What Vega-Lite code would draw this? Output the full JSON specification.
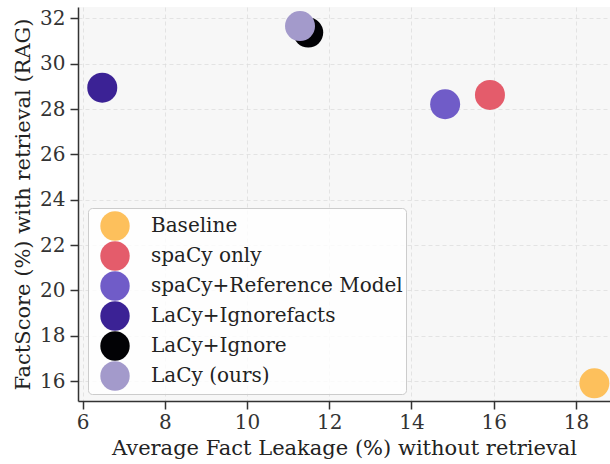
{
  "$schema": "https://vega.github.io/schema/vega-lite/v6.json",
  "autosize": "none",
  "width": 532,
  "height": 394,
  "padding": {"left": 78, "top": 7, "right": 0, "bottom": 63},
  "background": "white",
  "config": {
    "font": "DejaVu Serif",
    "view": {"fill": "#f7f7f7", "stroke": null},
    "axis": {
      "labelFont": "DejaVu Serif",
      "titleFont": "DejaVu Serif",
      "labelFontSize": 20,
      "titleFontSize": 21,
      "titleFontWeight": "normal",
      "labelColor": "#333",
      "titleColor": "#222",
      "domainColor": "#333",
      "domainWidth": 1.5,
      "tickColor": "#333",
      "tickWidth": 1.5,
      "tickSize": 8,
      "labelPadding": 3,
      "grid": true,
      "gridColor": "#dddddd",
      "gridDash": [4, 3],
      "gridWidth": 0.8
    },
    "legend": {
      "labelFont": "DejaVu Serif",
      "labelFontSize": 20,
      "labelColor": "#222",
      "labelLimit": 0
    }
  },
  "data": {
    "values": [
      {"method": "Baseline", "leakage": 18.45, "factscore": 15.9},
      {"method": "spaCy only", "leakage": 15.91, "factscore": 28.62},
      {"method": "spaCy+Reference Model", "leakage": 14.82, "factscore": 28.21},
      {"method": "LaCy+Ignorefacts", "leakage": 6.48, "factscore": 28.94},
      {"method": "LaCy+Ignore", "leakage": 11.49, "factscore": 31.37},
      {"method": "LaCy (ours)", "leakage": 11.29, "factscore": 31.66}
    ]
  },
  "mark": {"type": "point", "filled": true, "shape": "circle", "size": 900, "opacity": 1},
  "encoding": {
    "x": {
      "field": "leakage",
      "type": "quantitative",
      "title": "Average Fact Leakage (%) without retrieval",
      "scale": {"domain": [5.89, 18.83], "nice": false, "zero": false},
      "axis": {"values": [6, 8, 10, 12, 14, 16, 18], "titlePadding": 5}
    },
    "y": {
      "field": "factscore",
      "type": "quantitative",
      "title": "FactScore (%) with retrieval (RAG)",
      "scale": {"domain": [15.12, 32.5], "nice": false, "zero": false},
      "axis": {"values": [16, 18, 20, 22, 24, 26, 28, 30, 32], "titlePadding": 6, "labelPadding": 5}
    },
    "color": {
      "field": "method",
      "type": "nominal",
      "title": null,
      "scale": {
        "domain": ["Baseline", "spaCy only", "spaCy+Reference Model", "LaCy+Ignorefacts", "LaCy+Ignore", "LaCy (ours)"],
        "range": ["#fdc05c", "#e45c6b", "#705cc8", "#3b2295", "#020205", "#a39acb"]
      },
      "legend": {
        "orient": "none",
        "legendX": 10,
        "legendY": 201,
        "symbolType": "circle",
        "symbolSize": 864,
        "symbolOpacity": 1,
        "symbolStrokeWidth": 0,
        "symbolOffset": 9,
        "labelOffset": 21,
        "rowPadding": 0,
        "padding": 3,
        "labelLimit": 0,
        "fillColor": "rgba(255,255,255,0.8)",
        "strokeColor": "#cccccc",
        "cornerRadius": 4
      }
    }
  }
}
